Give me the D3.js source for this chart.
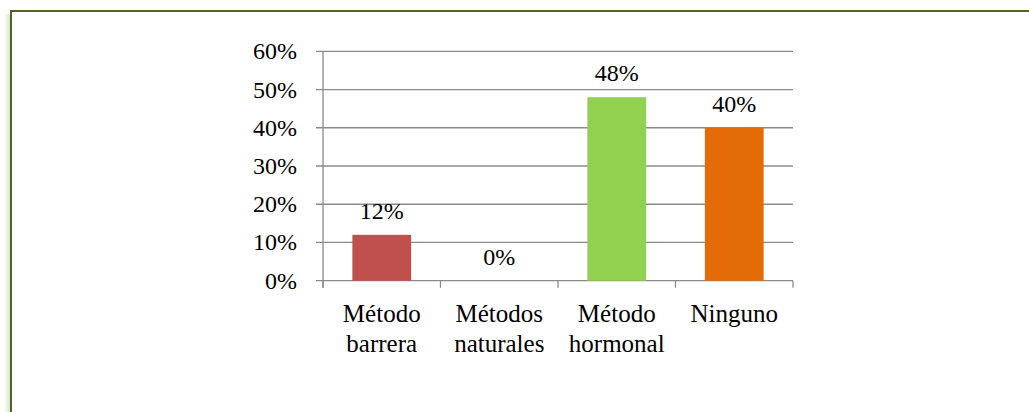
<!DOCTYPE html>
<html>
<head>
<meta charset="utf-8">
<script src="https://cdn.jsdelivr.net/npm/d3@7"></script>
<style>
  html, body { margin: 0; padding: 0; background: #fff; }
  svg { display: block; }
  svg text { font-family: "Liberation Serif", "Times New Roman", Tinos, serif; }
</style>
</head>
<body>
<svg id="chart" width="1029" height="412"></svg>
<script>
// Contraceptive method usage (share of respondents)
const categories = [["Método", "barrera"], ["Métodos", "naturales"], ["Método", "hormonal"], ["Ninguno"]];
const values = [0.12, 0.00, 0.48, 0.40];
const colors = ["#C0504D", "#4F81BD", "#92D050", "#E36C09"];
const yTicks = [0, 0.1, 0.2, 0.3, 0.4, 0.5, 0.6];

const W = 1029, H = 412;
const FONT = "Liberation Serif, Times New Roman, serif";
const svg = d3.select("#chart");

// Frame: dark green border on top and left with a soft shadow
const defs = svg.append("defs");
const grad = defs.append("linearGradient").attr("id", "shadow").attr("x1", "0").attr("x2", "1");
grad.append("stop").attr("offset", "0").attr("stop-color", "#fff");
grad.append("stop").attr("offset", "1").attr("stop-color", "#d9e4c6");
svg.append("rect").attr("x", 4).attr("y", 14).attr("width", 6).attr("height", H)
  .attr("fill", "url(#shadow)");
svg.append("rect")
  .attr("x", 11).attr("y", 11)
  .attr("width", W + 20).attr("height", H + 20)
  .attr("fill", "#fff")
  .attr("stroke", "#4F6228")
  .attr("stroke-width", 2);

const margin = { left: 323, right: W - 793, top: 51.3, bottom: H - 280.7 };
const x = d3.scaleBand()
  .domain(categories.map((c, i) => i))
  .range([margin.left, W - margin.right])
  .paddingInner(0.5).paddingOuter(0.25);
const y = d3.scaleLinear().domain([0, 0.6]).range([H - margin.bottom, margin.top]);

// Gridlines
svg.append("g")
  .selectAll("line")
  .data(yTicks)
  .join("line")
  .attr("x1", margin.left - 7).attr("x2", W - margin.right)
  .attr("y1", d => y(d)).attr("y2", d => y(d))
  .attr("stroke", "#8a8a8a").attr("stroke-width", 1.3);

// Y axis line
svg.append("line")
  .attr("x1", margin.left).attr("x2", margin.left)
  .attr("y1", y(0.6)).attr("y2", y(0) + 7)
  .attr("stroke", "#8a8a8a").attr("stroke-width", 1.3);

// Y tick labels
svg.append("g")
  .selectAll("text")
  .data(yTicks)
  .join("text")
  .style("font-family", FONT)
  .attr("x", margin.left - 26)
  .attr("y", d => y(d) + 8)
  .attr("text-anchor", "end")
  .attr("font-size", 24)
  .attr("fill", "#000")
  .text(d => d3.format(".0%")(d));

// Category tick marks on the baseline
const step = x.step();
const bounds = d3.range(categories.length + 1).map(i => margin.left + i * step);
svg.append("g")
  .selectAll("line")
  .data(bounds)
  .join("line")
  .attr("x1", d => d).attr("x2", d => d)
  .attr("y1", y(0)).attr("y2", y(0) + 7)
  .attr("stroke", "#8a8a8a").attr("stroke-width", 1.3);

// Bars
svg.append("g")
  .selectAll("rect")
  .data(values)
  .join("rect")
  .attr("x", (d, i) => x(i))
  .attr("width", x.bandwidth())
  .attr("y", d => y(d))
  .attr("height", d => y(0) - y(d))
  .attr("fill", (d, i) => colors[i]);

// Value labels
svg.append("g")
  .selectAll("text")
  .data(values)
  .join("text")
  .style("font-family", FONT)
  .attr("x", (d, i) => x(i) + x.bandwidth() / 2)
  .attr("y", d => y(d) - 16)
  .attr("text-anchor", "middle")
  .attr("font-size", 24)
  .attr("fill", "#000")
  .text(d => d3.format(".0%")(d));

// Category labels (one text per line)
const lines = [];
categories.forEach((c, i) => c.forEach((t, j) => lines.push({ i, j, t })));
svg.append("g")
  .selectAll("text")
  .data(lines)
  .join("text")
  .style("font-family", FONT)
  .attr("x", d => x(d.i) + x.bandwidth() / 2)
  .attr("y", d => 321.5 + d.j * 30)
  .attr("text-anchor", "middle")
  .attr("font-size", 25)
  .attr("fill", "#000")
  .text(d => d.t);
</script>
</body>
</html>
